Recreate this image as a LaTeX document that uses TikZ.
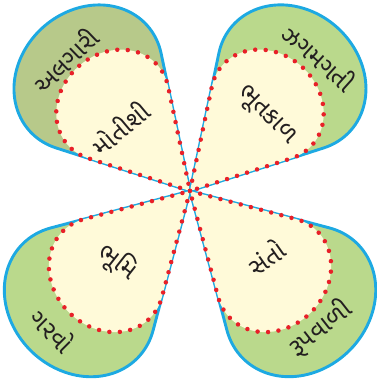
\documentclass[tikz,border=0pt]{standalone}
\usepackage{fontspec}
\newfontfamily\gujfont[Script=Gujarati]{Noto Sans Gujarati UI}
\definecolor{leafblue}{RGB}{29,169,226}
\definecolor{olivegreen}{RGB}{183,201,138}
\definecolor{leafgreen}{RGB}{186,217,140}
\definecolor{creamy}{RGB}{255,250,217}
\definecolor{dotred}{RGB}{232,32,40}
\definecolor{inkblack}{RGB}{35,31,32}
% one petal: angle, scale, green
\newcommand{\petal}[3]{%
  \begin{scope}[shift={(190,192)},rotate=#1,scale=#2]
    \filldraw[leaf,fill=#3] (0,0) -- (121.6,70.7)
      arc[start angle=116.56,end angle=-116.56,x radius=68,y radius=79] -- cycle;
    \begin{scope}[scale=0.76]
      \fill[creamy] (0,0) -- (121.6,70.7)
        arc[start angle=116.56,end angle=-116.56,x radius=68,y radius=79] -- cycle;
      \draw[dots] (0,0) -- (121.6,70.7)
        arc[start angle=116.56,end angle=-116.56,x radius=68,y radius=79] -- cycle;
    \end{scope}
  \end{scope}}
\begin{document}
\begin{tikzpicture}[x=1pt,y=1pt,
    leaf/.style={draw=leafblue,line width=2.9pt,line join=round},
    dots/.style={draw=dotred,line width=4.5pt,line cap=round,dash pattern=on 0pt off 10.5pt},
    word/.style={text=inkblack,inner sep=0pt,font=\gujfont\fontsize{25}{25}\selectfont}]
    \useasboundingbox (0,0) rectangle (376,383);
    \petal{132}{1}{olivegreen}
    \petal{48}{1}{leafgreen}
    \petal{225}{1.025}{leafgreen}
    \petal{-45}{1.025}{leafgreen}
    % words
    \node[word,rotate=44] (alagari) at (65,323) {અલગારી};
    \node[word,rotate=40] (motishi) at (120,255) {મોતીશી};
    \node[word,rotate=-42] (zagmagti) at (320,326) {ઝગમગતી};
    \node[word,rotate=-45] (bhutkal) at (266,267) {ભૂતકાળ};
    \node[word,rotate=-38] (bhumi) at (118,121) {ભૂમિ};
    \node[word,rotate=-45] (garvo) at (53,53) {ગરવો};
    \node[word,rotate=35] (santo) at (266,126) {સંતો};
    \node[word,rotate=38] (rupvali) at (320,55) {રૂપવાળી};
\end{tikzpicture}
\end{document}
